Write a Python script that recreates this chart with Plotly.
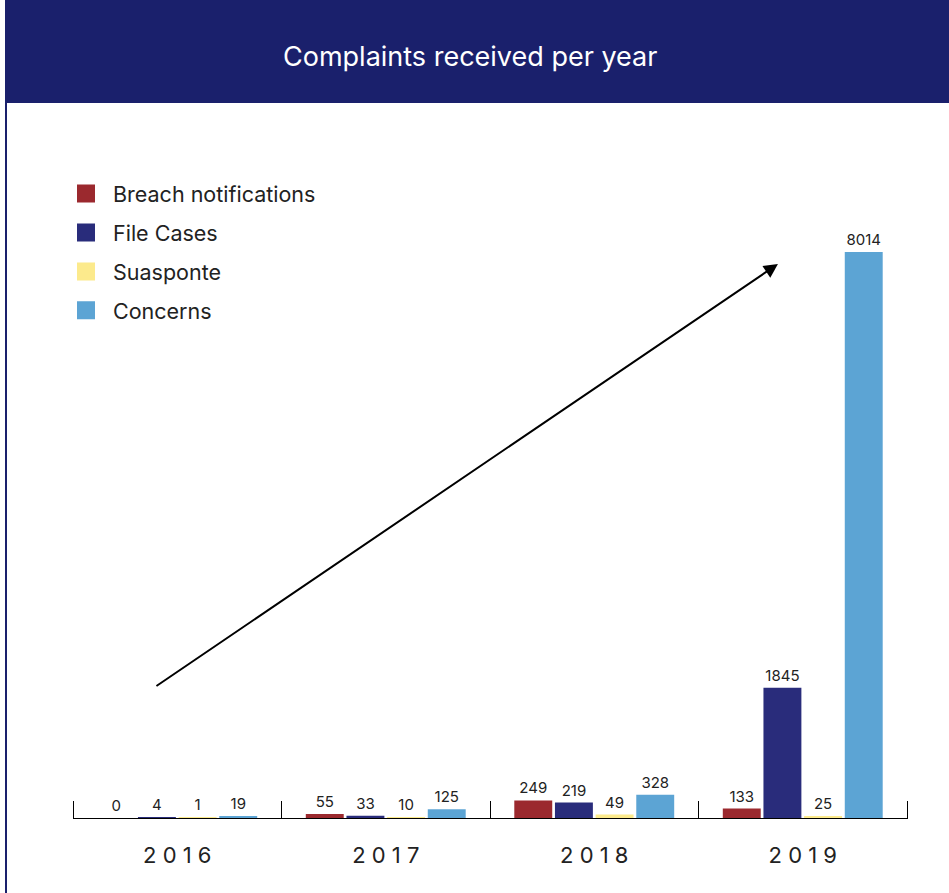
import plotly.graph_objects as go

years = ["2016", "2017", "2018", "2019"]
year_labels = ["2 0 1 6", "2 0 1 7", "2 0 1 8", "2 0 1 9"]
series_names = ["Breach notifications", "File Cases", "Suasponte", "Concerns"]
breach = [0, 55, 249, 133]
file_cases = [4, 33, 219, 1845]
suasponte = [1, 10, 49, 25]
concerns = [19, 125, 328, 8014]
colors = ["#9B292E", "#292C7B", "#FCEA8C", "#5CA4D4"]
title_text = "Complaints received per year"
boundaries = [-0.5, 0.5, 1.5, 2.5, 3.5]

W, H = 949, 893
L, R, T, B = 73, 42, 130, 75
pw, ph = W - L - R, H - T - B
YMAX = 9741
TICKLEN = 18

def px_x(p):
    return (p - L) / pw

def px_y(p):
    return (H - B - p) / ph

FONT = "Inter"
fig = go.Figure()
for name, vals, col in zip(series_names, [breach, file_cases, suasponte, concerns], colors):
    fig.add_trace(go.Bar(
        x=years, y=vals, name=name, marker=dict(color=col, line=dict(width=0)),
        text=[str(v) for v in vals], textposition="outside", cliponaxis=False,
        textfont=dict(size=15, color="#222222", family=FONT), showlegend=False,
        hoverinfo="x+y+name",
    ))
for i, (name, col) in enumerate(zip(series_names, colors)):
    fig.add_trace(go.Scatter(
        x=[None], y=[None], mode="markers", name=name, legendgroup=str(i),
        marker=dict(symbol="square", size=16, color=col, line=dict(color=col, width=2)),
        showlegend=True,
    ))
# invisible trace on helper axis so its ticks are drawn at group boundaries
fig.add_trace(go.Scatter(x=boundaries, y=[None] * len(boundaries), xaxis="x2",
                         mode="markers", showlegend=False, hoverinfo="skip"))

fig.update_layout(
    width=W, height=H, margin=dict(l=L, r=R, t=T, b=B),
    paper_bgcolor="white", plot_bgcolor="white",
    barmode="group", bargap=0.22, bargroupgap=0.067,
    font=dict(family=FONT, color="#222222"),
    showlegend=True,
    legend=dict(x=px_x(59), y=px_y(173), xanchor="left", yanchor="top",
                font=dict(size=21.5, family=FONT, color="#222222"), itemwidth=44,
                tracegroupgap=8, bgcolor="rgba(0,0,0,0)"),
    xaxis=dict(type="category", range=[-0.5, 3.5], showline=True, linecolor="black",
               linewidth=1, ticks="", tickvals=years, ticktext=year_labels,
               tickfont=dict(size=22, family=FONT, color="#222222"),
               ticklabelstandoff=18, showgrid=False, zeroline=False, fixedrange=True),
    xaxis2=dict(overlaying="x", anchor="free", position=TICKLEN / ph, side="bottom",
                range=[-0.5, 3.5], tickvals=boundaries, ticks="outside", ticklen=TICKLEN,
                tickcolor="black", tickwidth=1, showticklabels=False, showline=False,
                showgrid=False, zeroline=False, fixedrange=True),
    yaxis=dict(range=[0, YMAX], visible=False, showgrid=False, zeroline=False, fixedrange=True),
    shapes=[
        dict(type="rect", xref="paper", yref="paper", x0=px_x(5), x1=px_x(960),
             y0=px_y(103), y1=px_y(-10), fillcolor="#1A206C", line=dict(width=0), layer="above"),
        dict(type="line", xref="paper", yref="paper", x0=px_x(6), x1=px_x(6),
             y0=px_y(100), y1=px_y(900), line=dict(color="#1A206C", width=2)),
    ],
    annotations=[
        dict(text=title_text, xref="paper", yref="paper", x=px_x(470), y=px_y(57),
             xanchor="center", yanchor="middle", showarrow=False,
             font=dict(size=27, color="white", family=FONT)),
        dict(text="", x=2.881, y=7844, xref="x", yref="y", ax=-0.107, ay=1855,
             axref="x", ayref="y", showarrow=True, arrowhead=2, arrowsize=1.4,
             arrowwidth=2, arrowcolor="black", standoff=0),
    ],
)
fig.write_html("out.html")
